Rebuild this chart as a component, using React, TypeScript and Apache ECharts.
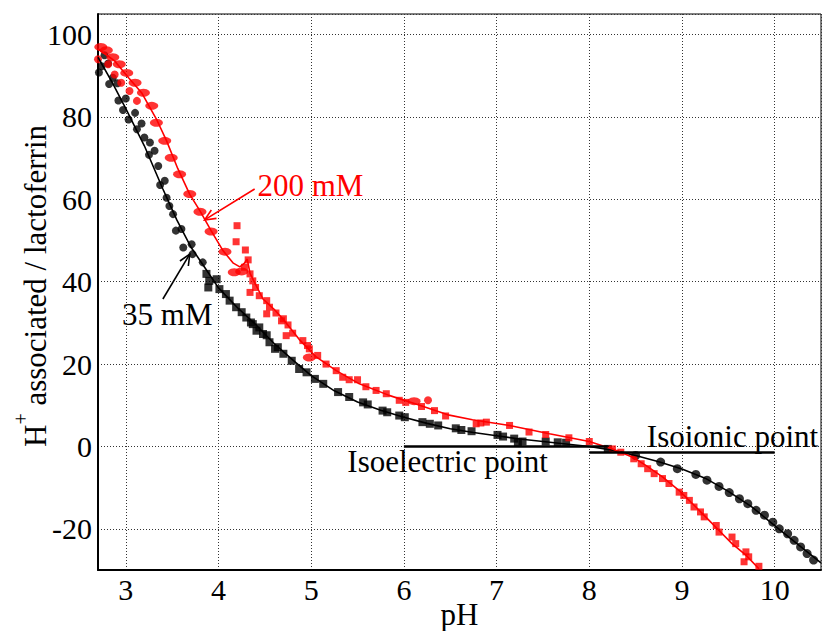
import React, { useEffect, useRef } from "react";
import * as echarts from "echarts";

// ---- Data (pH, H+ associated / lactoferrin) ----
const black35Circles: number[][] = [
  [2.71, 90.8], [2.74, 92.3], [2.77, 95.0], [2.81, 93.0], [2.82, 88.0], [2.86, 89.5],
  [2.91, 88.2], [2.92, 84.0], [2.97, 81.7], [3.00, 84.5], [3.03, 79.4], [3.10, 81.0],
  [3.12, 77.0], [3.17, 78.4], [3.20, 75.0], [3.25, 70.8], [3.26, 73.8], [3.31, 71.8],
  [3.35, 68.1], [3.37, 63.5], [3.42, 64.5], [3.44, 60.4], [3.47, 58.4], [3.51, 56.4],
  [3.54, 52.4], [3.60, 52.8], [3.62, 48.3], [3.71, 49.1], [3.72, 46.7], [3.83, 44.7],
];
const black35Squares: number[][] = [
  [3.87, 41.9], [3.89, 38.6], [3.90, 40.2], [3.98, 40.6], [4.01, 38.2], [4.08, 37.0],
  [4.12, 35.4], [4.19, 33.8], [4.25, 32.6], [4.30, 31.3], [4.35, 30.1], [4.37, 29.7],
  [4.41, 28.1], [4.44, 28.9], [4.48, 27.3], [4.52, 27.0], [4.55, 25.3], [4.61, 23.7],
  [4.64, 24.1], [4.70, 22.5], [4.79, 20.8], [4.87, 18.8], [4.95, 18.0], [5.04, 16.4],
  [5.13, 15.2], [5.29, 13.2], [5.41, 12.0], [5.56, 10.7], [5.61, 10.2], [5.77, 8.7],
  [5.82, 8.3], [5.95, 7.5], [6.01, 7.1], [6.20, 5.9], [6.28, 5.5], [6.37, 5.1],
  [6.56, 4.4], [6.62, 4.0], [6.73, 3.7], [7.01, 2.8], [7.07, 2.4], [7.19, 1.9],
  [7.23, 1.0], [7.28, 1.2], [7.53, 1.2], [7.66, 1.0], [7.75, 0.9], [8.20, -0.6],
];
const black35CirclesHigh: number[][] = [
  [8.50, -2.2], [8.77, -3.8], [8.95, -5.4], [9.15, -6.8], [9.27, -8.2], [9.40, -9.7],
  [9.51, -11.2], [9.62, -12.7], [9.71, -13.9], [9.80, -15.5], [9.89, -16.7], [9.98, -18.4],
  [10.05, -20.0], [10.14, -21.2], [10.21, -22.8], [10.28, -24.4], [10.35, -26.0], [10.42, -27.6],
];
const black35Fit: number[][] = [
  [2.70, 94.5], [2.85, 88.5], [3.00, 82.0], [3.20, 73.0], [3.40, 62.5], [3.55, 55.0],
  [3.70, 48.5], [3.85, 43.5], [4.00, 38.5], [4.20, 33.8], [4.40, 29.6], [4.60, 25.0],
  [4.80, 21.0], [5.00, 17.2], [5.25, 13.5], [5.50, 10.8], [5.75, 8.8], [6.00, 7.1],
  [6.25, 5.6], [6.50, 4.3], [6.75, 3.4], [7.00, 2.6], [7.25, 1.8], [7.50, 1.2],
  [7.75, 0.6], [8.00, 0.0], [8.25, -0.9], [8.50, -2.2], [8.75, -3.7], [9.00, -5.5],
  [9.25, -7.7], [9.50, -10.9], [9.75, -14.6], [10.00, -19.2], [10.25, -23.8], [10.50, -28.3],
];
const red200Ovals: number[][] = [
  [2.73, 97.0], [2.79, 96.2], [2.86, 94.5], [2.93, 92.8], [3.01, 90.7], [3.10, 88.3],
  [3.19, 85.9], [3.28, 82.7], [3.33, 78.6], [3.42, 74.2], [3.49, 70.1], [3.58, 66.1],
  [3.69, 61.3], [3.80, 57.0], [3.92, 52.2], [4.07, 47.3], [4.17, 42.3], [4.25, 42.5],
  [6.11, 11.0], [4.98, 21.6],
];
const red200Dots: number[][] = [
  [2.70, 94.0], [2.81, 92.8], [2.88, 90.3], [2.95, 88.3], [3.04, 86.3], [3.12, 83.9],
  [6.26, 11.2],
];
const red200Squares: number[][] = [
  [4.20, 53.6], [4.19, 49.7], [4.29, 47.7], [4.32, 45.3], [4.28, 43.5], [4.34, 41.9],
  [4.37, 40.2], [4.40, 38.6], [4.34, 37.4], [4.44, 36.6], [4.52, 35.4], [4.55, 33.8],
  [4.52, 32.2], [4.62, 32.4], [4.68, 30.5], [4.70, 31.0], [4.75, 29.5], [4.73, 26.9],
  [4.80, 27.5], [4.91, 25.7], [4.96, 24.5], [4.98, 23.7], [5.07, 22.1], [5.16, 20.0],
  [5.27, 18.4], [5.34, 16.8], [5.41, 16.2], [5.50, 16.2], [5.59, 14.5], [5.70, 13.6],
  [5.81, 12.8], [5.95, 11.2], [6.02, 10.7], [6.19, 9.7], [6.33, 8.7], [6.45, 7.4],
  [6.78, 5.5], [6.83, 5.7], [6.89, 5.9], [7.14, 5.1], [7.35, 3.5], [7.53, 2.9],
  [7.78, 2.1], [8.00, 1.2], [8.25, -0.6], [8.34, -1.4], [8.48, -3.0], [8.56, -4.2],
  [8.63, -5.4], [8.70, -6.6], [8.79, -7.8], [8.86, -9.0], [8.97, -11.1], [9.02, -11.9],
  [9.08, -13.1], [9.13, -14.7], [9.20, -15.9], [9.24, -17.1], [9.37, -19.2], [9.40, -20.8],
  [9.54, -22.0], [9.58, -23.6], [9.69, -25.6], [9.72, -26.8], [9.67, -28.0], [9.83, -29.1],
];
const red200Fit: number[][] = [
  [2.70, 96.5], [2.88, 93.6], [3.03, 89.5], [3.17, 85.9], [3.33, 79.5], [3.44, 74.2],
  [3.56, 67.5], [3.69, 61.2], [3.80, 57.2], [3.92, 52.4], [4.05, 47.5], [4.16, 44.5],
  [4.23, 43.6], [4.28, 44.5], [4.31, 45.5], [4.34, 42.0], [4.48, 35.8], [4.60, 33.3],
  [4.70, 30.8], [4.87, 26.0], [5.05, 21.8], [5.27, 18.4], [5.52, 15.2], [5.84, 12.4],
  [6.13, 10.3], [6.49, 7.6], [6.74, 6.5], [7.14, 5.1], [7.57, 3.1], [8.00, 1.2],
  [8.25, -0.6], [8.47, -2.6], [8.61, -4.6], [8.79, -7.4], [8.97, -10.7], [9.15, -14.7],
  [9.29, -17.9], [9.40, -20.4], [9.54, -23.6], [9.69, -26.4], [9.83, -29.7],
];
const isoelectricLine: number[][] = [[6.0, 0], [8.2, 0]];
const isoionicLine: number[][] = [[8.0, -1.5], [10.0, -1.5]];

const X_MIN = 2.7;
const X_MAX = 10.5;
const Y_MIN = -30;
const Y_MAX = 105;

const FONT = "Liberation Serif";
const RED = "#ff0000";
const BLACK = "#000000";

export default function App() {
  const ref = useRef<HTMLDivElement>(null);

  useEffect(() => {
    if (!ref.current) return;
    const chart = echarts.init(ref.current, undefined, { renderer: "svg" });

    const scatter = (name: string, data: number[][], color: string, symbol: string, size: any) => ({
      name,
      type: "scatter",
      data,
      symbol,
      symbolSize: size,
      itemStyle: { color },
      z: 3,
    });
    const line = (name: string, data: number[][], color: string, width: number) => ({
      name,
      type: "line",
      data,
      showSymbol: false,
      symbol: "none",
      lineStyle: { color, width },
      z: 4,
    });

    chart.setOption({
      animation: false,
      backgroundColor: "#ffffff",
      grid: {
        left: 98,
        top: 14,
        width: 723,
        height: 556,
        show: true,
        borderColor: BLACK,
        borderWidth: 1,
        containLabel: false,
      },
      xAxis: {
        type: "value",
        min: X_MIN,
        max: X_MAX,
        splitNumber: 8,
        axisLine: { show: true, onZero: false, lineStyle: { color: BLACK, width: 2 } },
        axisTick: { show: false },
        axisLabel: {
          color: BLACK,
          fontSize: 30,
          fontFamily: FONT,
          margin: 4,
          showMinLabel: false,
          showMaxLabel: false,
          formatter: (v: number) => (Math.abs(v - Math.round(v)) < 1e-6 ? String(Math.round(v)) : ""),
        },
        splitLine: { show: true, lineStyle: { color: "#333", width: 1, type: [1, 2] } },
      },
      yAxis: {
        type: "value",
        min: Y_MIN,
        max: Y_MAX,
        splitNumber: 7,
        axisLine: { show: true, onZero: false, lineStyle: { color: BLACK, width: 2 } },
        axisTick: { show: false },
        axisLabel: {
          color: BLACK,
          fontSize: 30,
          fontFamily: FONT,
          margin: 6,
          formatter: (v: number) => {
            const r = Math.round(v);
            return Math.abs(v - r) < 1e-6 && r % 20 === 0 ? String(r) : "";
          },
        },
        splitLine: { show: true, lineStyle: { color: "#333", width: 1, type: [1, 2] } },
      },
      series: [
        scatter("35 mM circles", black35Circles, BLACK, "circle", 8),
        scatter("35 mM squares", black35Squares, BLACK, "rect", 8),
        scatter("35 mM circles high", black35CirclesHigh, BLACK, "circle", 9),
        scatter("200 mM ovals", red200Ovals, RED, "circle", [13, 8]),
        scatter("200 mM dots", red200Dots, RED, "circle", 8),
        scatter("200 mM squares", red200Squares, RED, "rect", 7),
        line("35 mM fit", black35Fit, BLACK, 1.6),
        line("200 mM fit", red200Fit, RED, 1.6),
        line("Isoelectric", isoelectricLine, BLACK, 2.5),
        line("Isoionic", isoionicLine, BLACK, 2.5),
      ],
    });

    const px = (x: number, y: number) => chart.convertToPixel({ gridIndex: 0 }, [x, y]) as number[];

    const arrow = (from: number[], to: number[], color: string) => {
      const a = px(from[0], from[1]);
      const b = px(to[0], to[1]);
      const dx = a[0] - b[0];
      const dy = a[1] - b[1];
      const len = Math.hypot(dx, dy);
      const ux = dx / len;
      const uy = dy / len;
      const L = 12;
      const ang = 0.42;
      const w1 = [
        b[0] + L * (ux * Math.cos(ang) - uy * Math.sin(ang)),
        b[1] + L * (ux * Math.sin(ang) + uy * Math.cos(ang)),
      ];
      const w2 = [
        b[0] + L * (ux * Math.cos(-ang) - uy * Math.sin(-ang)),
        b[1] + L * (ux * Math.sin(-ang) + uy * Math.cos(-ang)),
      ];
      return [
        { type: "line", shape: { x1: a[0], y1: a[1], x2: b[0], y2: b[1] }, style: { stroke: color, lineWidth: 1.6 }, z: 10 },
        { type: "polyline", shape: { points: [w1, b, w2] }, style: { stroke: color, lineWidth: 1.6, fill: null }, z: 10 },
      ];
    };

    const label = (text: string, x: number, y: number, color: string, align: string) => {
      const p = px(x, y);
      return {
        type: "text",
        x: p[0],
        y: p[1],
        z: 10,
        style: {
          text,
          fill: color,
          fontSize: 31,
          fontFamily: FONT,
          align,
          verticalAlign: "middle",
        },
      };
    };

    const g0 = px(X_MIN, Y_MIN);
    const g1 = px(X_MAX, Y_MAX);
    const gMid = px((X_MIN + X_MAX) / 2, (Y_MIN + Y_MAX) / 2);

    chart.setOption({
      graphic: [
        label("200 mM", 4.42, 63.3, RED, "left"),
        ...arrow([4.39, 62.5], [3.85, 55.0], RED),
        label("35 mM", 2.96, 32.0, BLACK, "left"),
        ...arrow([3.40, 35.8], [3.69, 46.7], BLACK),
        label("Isoelectric point", 5.39, -3.6, BLACK, "left"),
        label("Isoionic point", 10.47, 2.4, BLACK, "right"),
        {
          type: "text",
          x: (g0[0] + g1[0]) / 2,
          y: 614,
          style: { text: "pH", fill: BLACK, fontSize: 31, fontFamily: FONT, align: "center", verticalAlign: "middle" },
        },
        {
          type: "text",
          x: 31,
          y: gMid[1] - 6,
          rotation: Math.PI / 2,
          style: {
            text: "{n|H}{s|+}{n| associated / lactoferrin}",
            fill: BLACK,
            align: "center",
            verticalAlign: "middle",
            rich: {
              n: { fontSize: 31, fontFamily: FONT, fill: BLACK, lineHeight: 40, verticalAlign: "bottom" },
              s: { fontSize: 20, fontFamily: FONT, fill: BLACK, lineHeight: 22, verticalAlign: "top" },
            },
          },
        },
      ],
    });

    return () => chart.dispose();
  }, []);

  return (
    <div
      ref={ref}
      style={{ position: "fixed", left: 0, top: 0, width: 822, height: 631, background: "#fff" }}
    />
  );
}
